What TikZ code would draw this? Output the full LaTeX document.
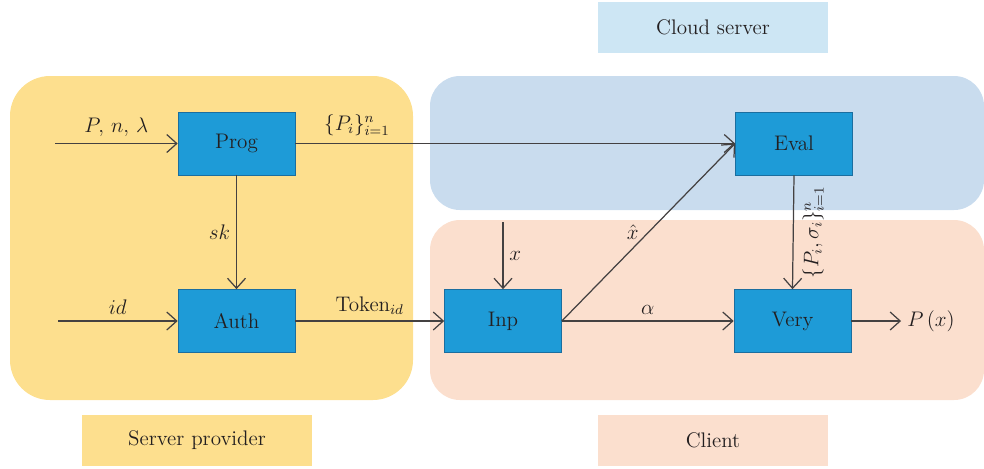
\documentclass[tikz,border=0pt]{standalone}
\usepackage{xcolor}
\usepackage{tikz}
\usepackage{amssymb}
\usetikzlibrary{arrows.meta}

\definecolor{provfill}{HTML}{FDDF8E}
\definecolor{cloudfill}{HTML}{C9DCEE}
\definecolor{clientfill}{HTML}{FBDFCE}
\definecolor{cloudtag}{HTML}{CDE6F4}
\definecolor{boxfill}{HTML}{1E9BD7}
\definecolor{boxedge}{HTML}{1B6E9F}
\definecolor{ink}{HTML}{231F20}

\tikzset{
  algbox/.style={draw=boxedge, fill=boxfill, minimum width=2.34cm, minimum height=1.26cm, font=\large, text=ink},
  tagbox/.style={minimum width=4.6cm, minimum height=1.02cm, font=\large, text=ink},
  flow/.style={->, >={Straight Barb[length=2mm, width=3.6mm]}, draw=ink!85, line width=0.7pt},
  lbl/.style={font=\large, text=ink}
}

\begin{document}
\begin{tikzpicture}[x=0.02cm, y=-0.02cm]
    \useasboundingbox (0,0) rectangle (984,468);
    % regions
    \fill[provfill, rounded corners=0.8cm] (10,76) rectangle (413,400);
    \fill[cloudfill, rounded corners=0.6cm] (430,76) rectangle (984,210);
    \fill[clientfill, rounded corners=0.6cm] (430,220) rectangle (984,400);
    \node[tagbox, fill=cloudtag] (cloudtag) at (713,27) {Cloud server};
    \node[tagbox, fill=provfill] (provtag) at (197,440) {Server provider};
    \node[tagbox, fill=clientfill] (clienttag) at (713,440) {Client};

    % algorithms
    \node[algbox] (Prog) at (236.5,143.5) {Prog};
    \node[algbox] (Auth) at (236.5,321) {Auth};
    \node[algbox] (Inp) at (503,321) {Inp};
    \node[algbox] (Eval) at (794,143.5) {Eval};
    \node[algbox] (Very) at (792.5,321) {Very};

    \coordinate (pin) at (55,143.5);
    \coordinate (idin) at (58,321);
    \coordinate (xin) at (503,222);
    \node[lbl] (px) at (931,321) {$P\,(x)$};

    % connectors
    \draw[flow] (pin) -- (Prog.west) node[lbl, midway, above] {$P,\,n,\,\lambda$};
    \draw[flow] (idin) -- (Auth.west) node[lbl, midway, above] {$id$};
    \draw[flow] (Prog) -- (Auth) node[lbl, midway, left] {$sk$};
    \draw[flow] (Prog.east) -- (Eval.west) node[lbl, pos=0.14, above=1pt] {$\{P_i\}_{i=1}^{n}$};
    \draw[flow] (Auth) -- (Inp) node[lbl, midway, above] {Token$_{id}$};
    \draw[flow] (xin) -- (Inp.north) node[lbl, midway, right] {$x$};
    \draw[flow] (Inp.east) -- (Eval.west) node[lbl, pos=0.5, left=2pt] {$\hat{x}$};
    \draw[flow] (Inp) -- (Very) node[lbl, midway, above] {$\alpha$};
    \draw[flow] (Eval.south) -- (Very.north) node[lbl, midway, rotate=90, anchor=north, inner sep=5pt] {$\{P_i,\sigma_i\}_{i=1}^{n}$};
    \draw[flow] (Very) -- (px);
  \end{tikzpicture}
\end{document}
